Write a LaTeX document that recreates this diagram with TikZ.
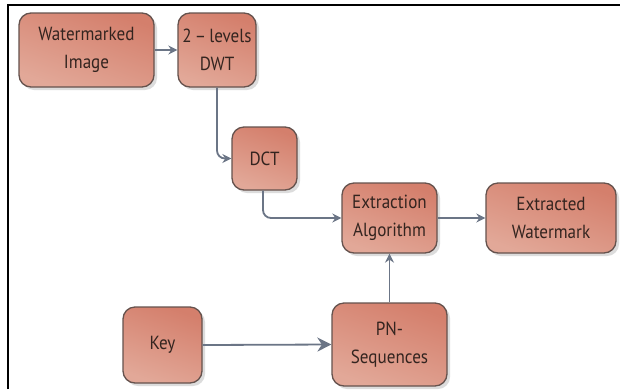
\documentclass[tikz,border=0pt]{standalone}
\usepackage{fontspec}
\setmainfont{PT Sans}[FakeStretch=0.9]
\usetikzlibrary{arrows.meta,shadows,fadings}
\definecolor{boxtop}{HTML}{D47F6C}
\definecolor{boxbot}{HTML}{E2A898}
\definecolor{boxedge}{HTML}{65524D}
\definecolor{txt}{HTML}{33241F}
\definecolor{conn}{HTML}{6B7586}
\tikzset{
  stepbox/.style={draw=boxedge, line width=1.3pt, rounded corners=12pt,
    top color=boxtop, bottom color=boxbot, shading angle=-20,
    text=txt, align=center, inner sep=2pt,
    font=\fontsize{19}{28}\selectfont,
    drop shadow={shadow xshift=3pt, shadow yshift=-3pt, fill=black!30, opacity=0.45}},
  conn/.style={draw=conn, line width=1.8pt, rounded corners=8pt,
    -{Stealth[length=9pt,width=9pt]}},
}
\begin{document}
\begin{tikzpicture}[x=1pt,y=-1pt]
\useasboundingbox (0,0) rectangle (620,389);
\fill[white] (0,0) rectangle (620,389);
\draw[line width=2pt, black] (8,389) -- (8,5) -- (620,5);
\node[stepbox, minimum width=135pt, minimum height=74pt] (wi) at (86.5,50) {Watermarked\\Image};
\node[stepbox, minimum width=78pt, minimum height=74pt] (dwt) at (217,50) {2\,–\,levels\\DWT};
\node[stepbox, minimum width=65pt, minimum height=63pt] (dct) at (264.5,158.5) {DCT};
\node[stepbox, minimum width=95pt, minimum height=70pt] (ea) at (389.5,218) {Extraction\\Algorithm};
\node[stepbox, minimum width=130pt, minimum height=70pt] (ew) at (551,218) {Extracted\\Watermark};
\node[stepbox, minimum width=79pt, minimum height=76pt] (key) at (162.5,345) {Key};
\node[stepbox, minimum width=115pt, minimum height=83pt] (pn) at (389.5,344.5) {PN-\\Sequences};
\draw[conn] (wi.east) -- (dwt.west);
\draw[conn] (dwt.south) |- (dct.west);
\draw[conn] ([xshift=-1.5pt]dct.south) |- (ea.west);
\draw[conn] (ea.east) -- (ew.west);
\draw[conn] (pn.north) -- (ea.south);
\draw[draw=conn, line width=1.8pt, -{Stealth[length=14pt,width=14pt]}] (key.east) -- (pn.west);
\end{tikzpicture}
\end{document}
